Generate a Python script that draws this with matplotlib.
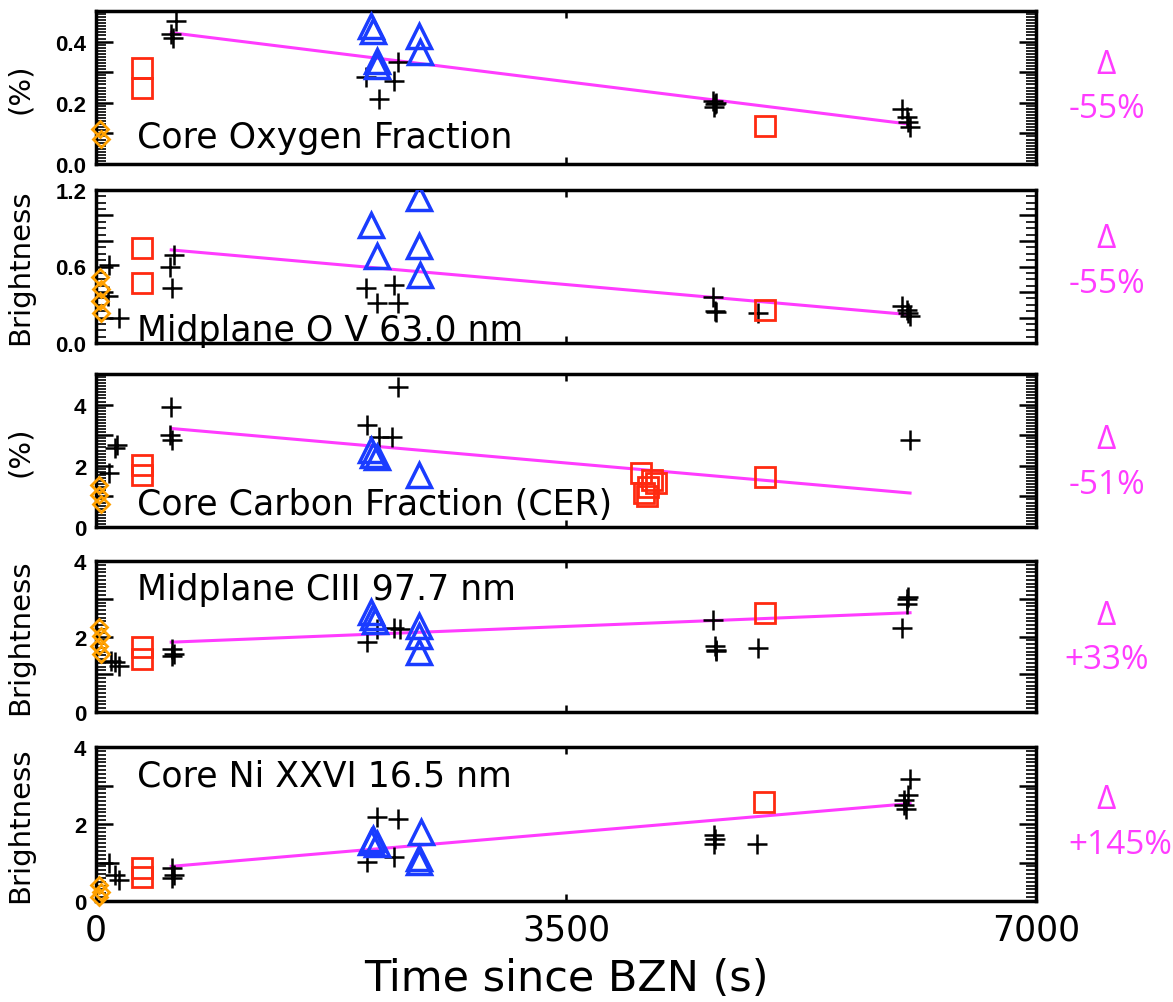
import numpy as np
import matplotlib
matplotlib.use("Agg")
import matplotlib.pyplot as plt
from matplotlib.ticker import MultipleLocator, FuncFormatter

# ── data ──────────────────────────────────────────────────
p1_dia_x = [30, 35]
p1_dia_y = [0.114, 0.082]
p1_plus_x = [596, 560, 575, 2007, 2107, 2249, 2220, 4597, 4610, 4600, 4615, 6000, 6037, 6050, 6062]
p1_plus_y = [0.467, 0.424, 0.413, 0.285, 0.212, 0.332, 0.272, 0.207, 0.195, 0.185, 0.2, 0.179, 0.152, 0.136, 0.12]
p1_sq_x = [345, 345, 4982]
p1_sq_y = [0.315, 0.248, 0.125]
p1_tri_x = [2050, 2060, 2092, 2095, 2405, 2410]
p1_tri_y = [0.451, 0.435, 0.337, 0.32, 0.418, 0.367]
p1_fit_x = [560, 6062]
p1_fit_y = [0.429, 0.13]

p2_dia_x = [30, 40, 30, 40]
p2_dia_y = [0.52, 0.42, 0.33, 0.235]
p2_plus_x = [97, 90, 168, 582, 553, 567, 2007, 2092, 2220, 2249, 4597, 4609, 4615, 4927, 6000, 6037, 6050, 6062]
p2_plus_y = [0.613, 0.365, 0.196, 0.69, 0.6, 0.43, 0.43, 0.313, 0.457, 0.313, 0.36, 0.25, 0.24, 0.235, 0.287, 0.26, 0.235, 0.21]
p2_sq_x = [345, 345, 4982]
p2_sq_y = [0.743, 0.47, 0.26]
p2_tri_x = [2050, 2092, 2405, 2405, 2415]
p2_tri_y = [0.926, 0.683, 1.135, 0.757, 0.535]
p2_fit_x = [560, 6062]
p2_fit_y = [0.73, 0.222]

p3_dia_x = [25, 25, 40]
p3_dia_y = [1.36, 1.04, 0.76]
p3_plus_x = [97, 140, 154, 560, 553, 567, 2015, 2107, 2249, 2206, 6062]
p3_plus_y = [1.75, 2.57, 2.67, 3.93, 3.0, 2.84, 3.33, 2.95, 4.59, 2.95, 2.84]
p3_sq_x = [345, 345, 4060, 4140, 4170, 4110, 4080, 4100, 4982]
p3_sq_y = [2.02, 1.69, 1.75, 1.55, 1.45, 1.3, 1.1, 1.0, 1.64]
p3_tri_x = [2050, 2065, 2092, 2405]
p3_tri_y = [2.51, 2.35, 2.29, 1.69]
p3_fit_x = [560, 6062]
p3_fit_y = [3.22, 1.11]

p4_dia_x = [25, 40, 25, 40]
p4_dia_y = [2.24, 2.02, 1.76, 1.54]
p4_plus_x = [109, 168, 140, 567, 582, 567, 2015, 2092, 2220, 2262, 4597, 4609, 4615, 4620, 4927, 6037, 6050, 6040, 6000]
p4_plus_y = [1.36, 1.23, 1.32, 1.67, 1.54, 1.49, 1.85, 2.2, 2.22, 2.2, 2.43, 1.74, 1.61, 1.65, 1.70, 3.0, 3.04, 2.87, 2.23]
p4_sq_x = [345, 345, 4982]
p4_sq_y = [1.71, 1.41, 2.61]
p4_tri_x = [2050, 2065, 2080, 2405, 2405, 2405]
p4_tri_y = [2.64, 2.51, 2.42, 2.29, 2.02, 1.58]
p4_fit_x = [560, 6062]
p4_fit_y = [1.85, 2.63]

p5_dia_x = [25, 40, 20]
p5_dia_y = [0.41, 0.24, 0.11]
p5_plus_x = [97, 140, 168, 567, 582, 567, 2015, 2092, 2249, 2220, 4604, 4610, 4600, 4923, 6062, 6050, 6017, 6030, 6017]
p5_plus_y = [0.98, 0.67, 0.54, 0.85, 0.67, 0.59, 1.02, 2.19, 2.14, 1.15, 1.71, 1.62, 1.49, 1.49, 3.18, 2.75, 2.62, 2.4, 2.49]
p5_sq_x = [345, 345, 4978]
p5_sq_y = [0.85, 0.63, 2.56]
p5_tri_x = [2050, 2065, 2092, 2420, 2405, 2405]
p5_tri_y = [1.54, 1.62, 1.49, 1.80, 1.11, 1.02]
p5_fit_x = [560, 6062]
p5_fit_y = [0.9, 2.53]

titles = ["Core Oxygen Fraction", "Midplane O V 63.0 nm", "Core Carbon Fraction (CER)",
          "Midplane CIII 97.7 nm", "Core Ni XXVI 16.5 nm"]
ylabels = ["(%)", "Brightness", "(%)", "Brightness", "Brightness"]
deltas = ["-55%", "-55%", "-51%", "+33%", "+145%"]
ymax = [0.5, 1.2, 5, 4, 4]
ymajor = [0.1, 0.2, 1, 1, 1]
yminor = [0.01, 0.05, 0.1, 0.1, 0.1]
ylabel_step = [0.2, 0.6, 2, 2, 2]
ydec = [1, 1, 0, 0, 0]
title_y = [0.088, 0.104, 0.76, 3.25, 3.27]

panels = [
    (p1_dia_x, p1_dia_y, p1_plus_x, p1_plus_y, p1_sq_x, p1_sq_y, p1_tri_x, p1_tri_y, p1_fit_x, p1_fit_y),
    (p2_dia_x, p2_dia_y, p2_plus_x, p2_plus_y, p2_sq_x, p2_sq_y, p2_tri_x, p2_tri_y, p2_fit_x, p2_fit_y),
    (p3_dia_x, p3_dia_y, p3_plus_x, p3_plus_y, p3_sq_x, p3_sq_y, p3_tri_x, p3_tri_y, p3_fit_x, p3_fit_y),
    (p4_dia_x, p4_dia_y, p4_plus_x, p4_plus_y, p4_sq_x, p4_sq_y, p4_tri_x, p4_tri_y, p4_fit_x, p4_fit_y),
    (p5_dia_x, p5_dia_y, p5_plus_x, p5_plus_y, p5_sq_x, p5_sq_y, p5_tri_x, p5_tri_y, p5_fit_x, p5_fit_y),
]

# ── layout (pixel boxes of the reference) ─────────────────
W, H = 1173, 1003
left_px, right_px = 96, 1036
boxes = [(12, 165), (191, 344), (375, 528), (562, 713), (748, 902)]
delta_y = [(0.65, 0.36), (0.68, 0.386), (0.575, 0.28), (0.636, 0.35), (0.66, 0.37)]

MAGENTA = "#ff3cff"
RED = "#ff2a10"
BLUE = "#1a3cff"
ORANGE = "#ffa000"

fig = plt.figure(figsize=(W / 100, H / 100), dpi=100)

for i, (dx, dy, px, py, sx, sy, tx, ty, fx, fy) in enumerate(panels):
    top, bot = boxes[i]
    ax = fig.add_axes([left_px / W, 1 - bot / H, (right_px - left_px) / W, (bot - top) / H])

    ax.plot(fx, fy, color=MAGENTA, lw=2.2, zorder=2)
    ax.plot(px, py, "+", color="black", ms=15, mew=1.8, zorder=3)
    ax.plot(sx, sy, "s", mfc="none", mec=RED, ms=15, mew=2, zorder=3)
    ax.plot(tx, ty, "^", mfc="none", mec=BLUE, ms=17, mew=2.5, zorder=3)
    ax.plot(dx, dy, "D", mfc="none", mec=ORANGE, ms=8, mew=2, zorder=4, clip_on=False)

    ax.set_xlim(0, 7000)
    ax.set_ylim(0, ymax[i])
    ax.xaxis.set_major_locator(MultipleLocator(3500))
    ax.yaxis.set_major_locator(MultipleLocator(ymajor[i]))
    ax.yaxis.set_minor_locator(MultipleLocator(yminor[i]))

    step, dec = ylabel_step[i], ydec[i]
    def fmt(v, pos, step=step, dec=dec):
        k = v / step
        if abs(k - round(k)) < 1e-6:
            return f"{v:.{dec}f}"
        return ""
    ax.yaxis.set_major_formatter(FuncFormatter(fmt))

    ax.tick_params(axis="both", which="both", direction="in", top=True, right=True)
    ax.tick_params(axis="y", which="major", length=12, width=1.8, labelsize=16, pad=7)
    ax.tick_params(axis="y", which="minor", length=7, width=1.2)
    ax.tick_params(axis="x", which="major", length=5, width=1.8, labelsize=25, pad=8)
    for lab in ax.get_yticklabels():
        lab.set_fontweight("bold")
        lab.set_family("Liberation Sans")
    for s in ax.spines.values():
        s.set_linewidth(2.5)

    if i < 4:
        ax.tick_params(axis="x", labelbottom=False)

    ax.text(305, title_y[i], titles[i], fontsize=25, va="center", ha="left", zorder=5)
    ax.set_ylabel(ylabels[i], fontsize=21)
    ax.yaxis.set_label_coords(-0.066, 0.5)

    ax.text(1.075, delta_y[i][0], "Δ", transform=ax.transAxes, color=MAGENTA,
            fontsize=24, ha="center", va="center", family="Open Sans")
    ax.text(1.075 if i < 4 else 1.09, delta_y[i][1], deltas[i], transform=ax.transAxes,
            color=MAGENTA, fontsize=24, ha="center", va="center", family="Open Sans")

    if i == 4:
        ax.set_xlabel("Time since BZN (s)", fontsize=31, labelpad=8)

fig.savefig("out.png", dpi=100)
